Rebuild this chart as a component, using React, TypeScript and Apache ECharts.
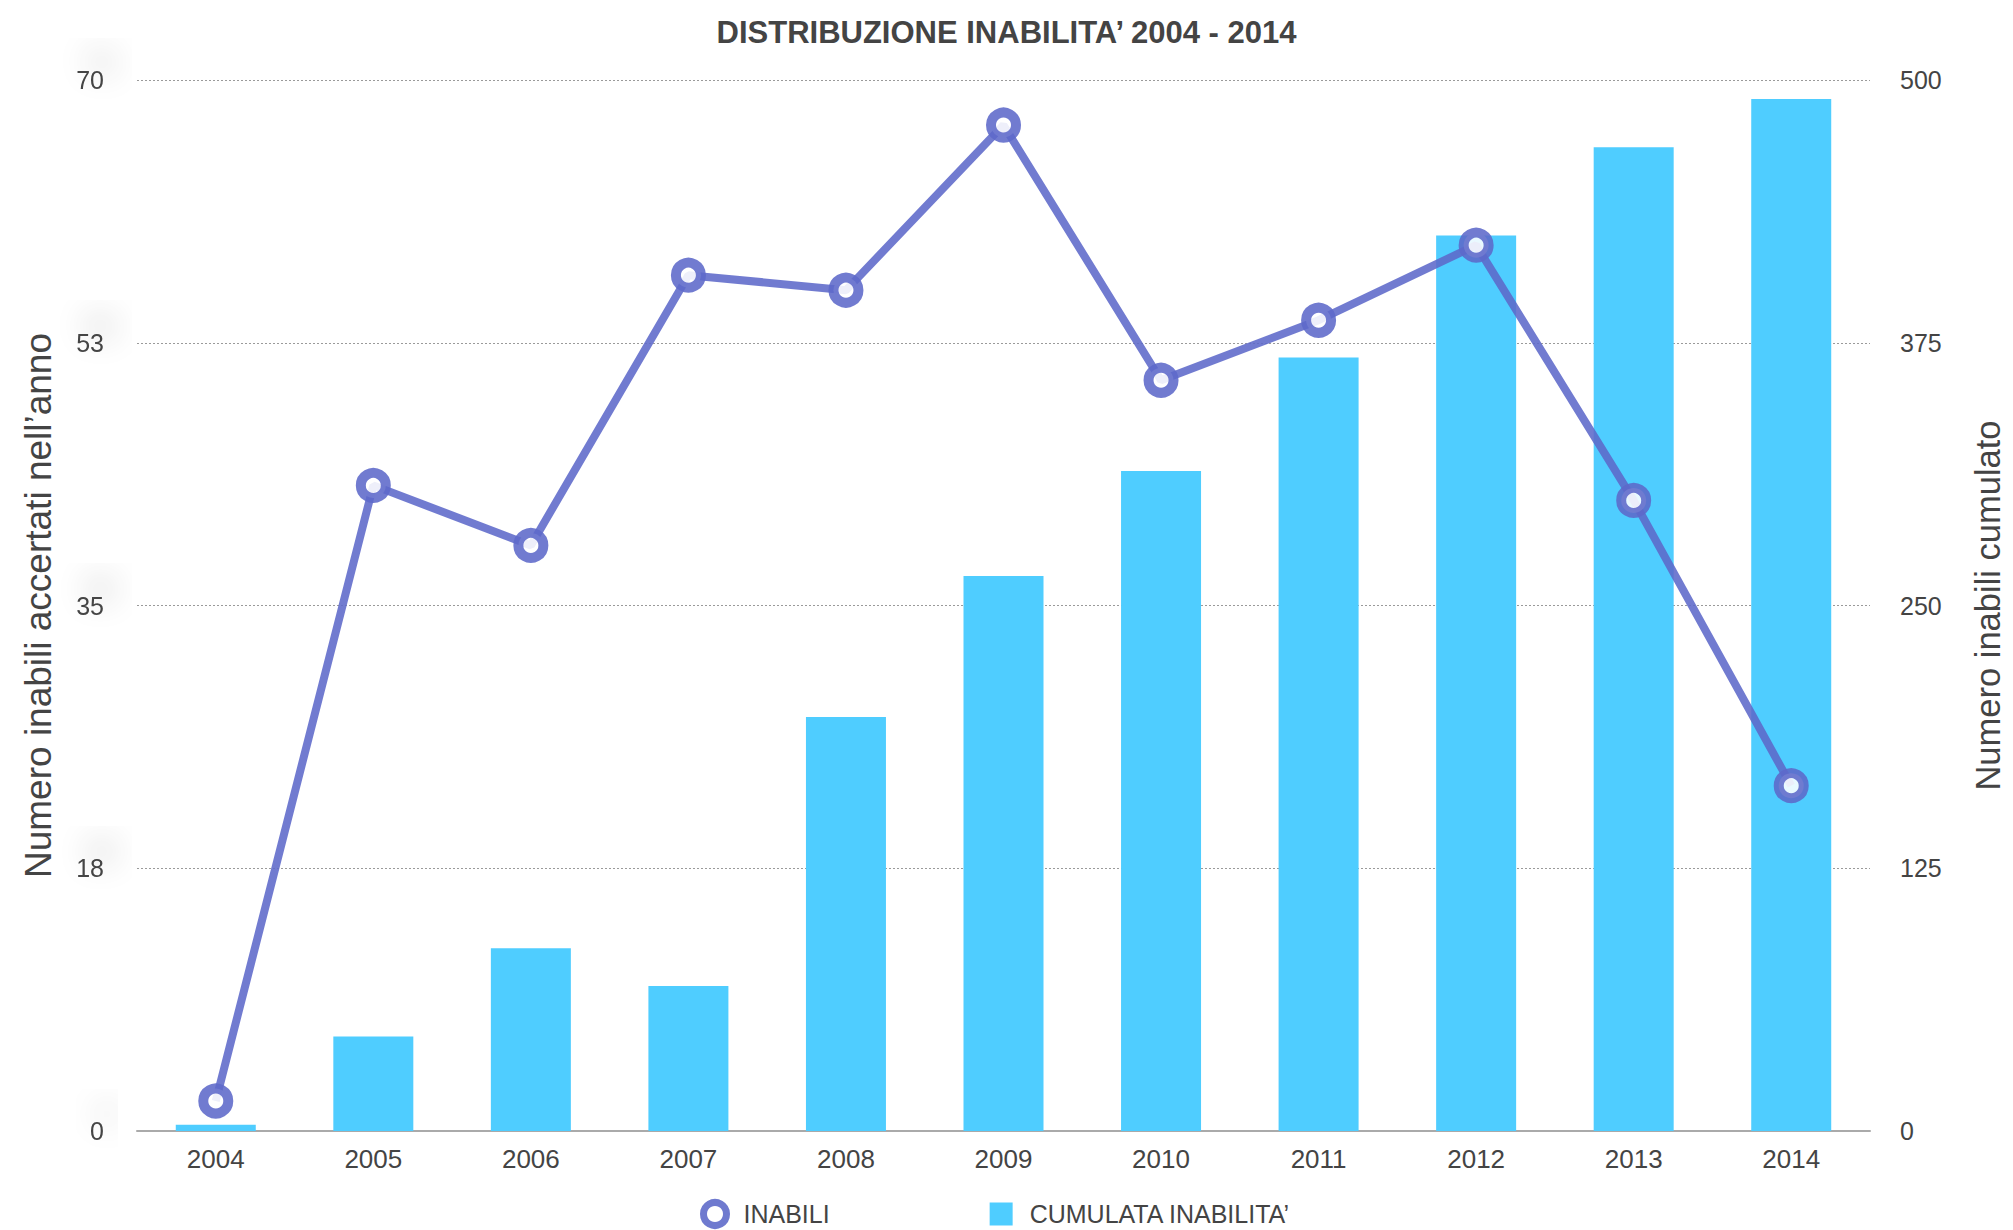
import React, { useEffect, useRef } from "react";
import * as echarts from "echarts";

const years = ["2004", "2005", "2006", "2007", "2008", "2009", "2010", "2011", "2012", "2013", "2014"];
const inabili = [2, 43, 39, 57, 56, 67, 50, 54, 59, 42, 23];
const cumulata = [3, 45, 87, 69, 197, 264, 314, 368, 426, 468, 491];
const leftTicks = [0, 18, 35, 53, 70];
const rightTicks = [0, 125, 250, 375, 500];

const FONT = "'Liberation Sans', Arial, sans-serif";
const TEXT = "#444";
const LINE = "#5d69c9";
const BAR = "#4fcdff";

export default function App() {
  const ref = useRef<HTMLDivElement>(null);
  useEffect(() => {
    if (!ref.current) return;
    const chart = echarts.init(ref.current, undefined, { renderer: "svg" });
    chart.setOption({
      animation: false,
      backgroundColor: "#fff",
      textStyle: { fontFamily: FONT },
      title: {
        text: "DISTRIBUZIONE INABILITA’ 2004 - 2014",
        left: "center",
        top: 12,
        textStyle: { fontFamily: FONT, fontSize: 31, fontWeight: "bold", color: TEXT },
      },
      legend: {
        left: 695,
        top: 1194,
        itemGap: 160,
        itemWidth: 23,
        itemHeight: 23,
        textStyle: { fontFamily: FONT, fontSize: 25, color: TEXT, padding: [0, 0, 0, 12] },
        data: [
          {
            name: "INABILI",
            icon: "circle",
            itemStyle: { color: "#fff", borderColor: "#6f7acf", borderWidth: 7, opacity: 1 },
          },
          { name: "CUMULATA INABILITA’", icon: "rect", itemStyle: { color: BAR } },
        ],
      },
      grid: { left: 137, right: 140, top: 80, bottom: 99, containLabel: false },
      xAxis: {
        type: "category",
        data: years,
        boundaryGap: true,
        axisLine: { show: true, lineStyle: { color: "#aaa", width: 2 } },
        axisTick: { show: false },
        axisLabel: { fontFamily: FONT, fontSize: 26, color: TEXT, margin: 15 },
      },
      yAxis: [
        {
          type: "value",
          min: 0,
          max: 70,
          interval: 17.5,
          name: "Numero inabili accertati nell’anno",
          nameLocation: "middle",
          nameGap: 80,
          nameTextStyle: { fontFamily: FONT, fontSize: 37, color: TEXT },
          axisLine: { show: false },
          axisTick: { show: false },
          axisLabel: {
            fontFamily: FONT,
            fontSize: 25,
            color: TEXT,
            margin: 33,
            formatter: (v: number) => {
              const r = Math.round(v);
              return leftTicks.includes(r) ? String(r) : "";
            },
            textShadowColor: "rgba(0,0,0,0.45)",
            textShadowBlur: 32,
            textShadowOffsetX: 10,
            textShadowOffsetY: -17,
          },
          splitLine: { show: true, lineStyle: { color: "#9a9a9a", type: [2, 2], width: 1.2 } },
        },
        {
          type: "value",
          min: 0,
          max: 500,
          interval: 125,
          name: "Numero inabili cumulato",
          nameLocation: "middle",
          nameGap: 100,
          nameRotate: 90,
          nameTextStyle: { fontFamily: FONT, fontSize: 34.5, color: TEXT },
          axisLine: { show: false },
          axisTick: { show: false },
          axisLabel: {
            fontFamily: FONT,
            fontSize: 25,
            color: TEXT,
            margin: 30,
            formatter: (v: number) => (rightTicks.includes(v) ? String(v) : ""),
          },
          splitLine: { show: false },
        },
      ],
      series: [
        {
          name: "CUMULATA INABILITA’",
          type: "bar",
          yAxisIndex: 1,
          data: cumulata,
          barWidth: 80,
          itemStyle: { color: BAR },
          z: 1,
        },
        {
          name: "INABILI",
          type: "line",
          yAxisIndex: 0,
          data: inabili,
          symbol: "circle",
          symbolSize: 25,
          lineStyle: { color: LINE, width: 8, opacity: 0.88 },
          itemStyle: { color: "#fff", borderColor: LINE, borderWidth: 10, opacity: 0.88 },
          z: 3,
        },
      ],
    });
    return () => chart.dispose();
  }, []);
  return (
    <div
      ref={ref}
      style={{ position: "fixed", left: 0, top: 0, width: 2013, height: 1230 }}
    />
  );
}
